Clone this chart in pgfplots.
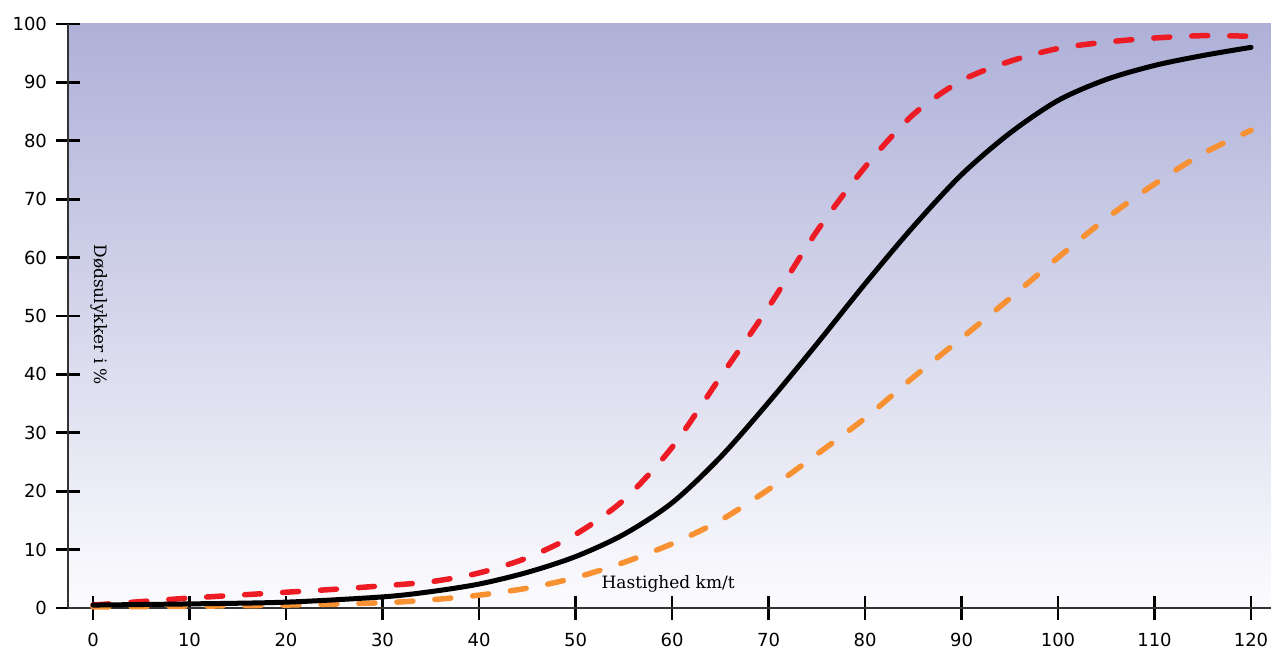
\documentclass[border=0pt]{standalone}
\usepackage{pgfplots}
\pgfplotsset{compat=1.18}
\usepackage{fontspec}
\setmainfont{DejaVu Sans}
\newfontfamily\slab{DejaVu Serif}
\definecolor{topc}{RGB}{174,176,216}
\definecolor{botc}{RGB}{252,252,254}
\definecolor{myred}{RGB}{237,28,36}
\definecolor{myorange}{RGB}{247,145,50}
\begin{document}
\begin{tikzpicture}
\useasboundingbox (-34pt,-20pt) rectangle (601.5pt,304pt);
\begin{axis}[
  at={(0,0)}, anchor=south west,
  scale only axis, width=601.5pt, height=292pt,
  xmin=-2.59, xmax=122.07, ymin=0, ymax=100,
  axis x line=bottom, axis y line=left,
  axis line style={-, line width=0.9pt, draw=black!80},
  xtick={0,10,...,120}, ytick={0,10,...,100},
  tick align=center, major tick length=12pt,
  tick style={line width=1.4pt, black},
  tick label style={font=\fontsize{9}{10}\selectfont},
  /pgf/number format/assume math mode=true,
  xticklabel style={yshift=-3pt},
  yticklabel style={xshift=-1pt},
  clip=false,
  axis background/.style={shade, top color=topc, bottom color=botc},
]
\addplot[myred, line width=2.75pt, line cap=round, dash pattern=on 8pt off 11pt, smooth] coordinates {
(0,0.5)(5,1.1)(10,1.7)(15,2.2)(20,2.7)(25,3.2)(30,3.8)(35,4.5)(40,6)(45,8.6)(50,12.6)(55,18.5)(60,27.5)(65,39.5)(70,51.5)(75,64.5)(80,75.5)(85,84.5)(90,90.3)(95,93.6)(100,95.8)(105,96.9)(110,97.6)(115,98)(120,97.9)};
\addplot[myorange, line width=2.75pt, line cap=round, dash pattern=on 8pt off 11pt, smooth] coordinates {
(0,0.2)(10,0.3)(20,0.5)(30,0.9)(35,1.4)(40,2.2)(45,3.4)(50,5.2)(55,7.8)(60,11)(65,15)(70,20.3)(75,26.3)(80,32.5)(85,39.5)(90,46.2)(95,53)(100,60)(105,66.7)(110,72.6)(115,77.8)(120,81.8)};
\addplot[black, line width=2.5pt, line cap=round, smooth] coordinates {
(0,0.5)(10,0.7)(20,1.0)(30,1.9)(35,2.8)(40,4.1)(45,6.1)(50,8.8)(55,12.6)(60,18)(65,25.8)(70,35.2)(75,45.2)(80,55.5)(85,65.3)(90,74.2)(95,81.3)(100,86.9)(105,90.5)(110,92.9)(115,94.6)(120,96)};
\draw[line width=0.9pt, black!80] (axis cs:-2.59,0) -- ++(-6pt,0);
\node[font=\slab\fontsize{8.5}{10}\selectfont] at (axis cs:59.6,4.1) {Hastighed km/t};
\node[font=\slab\fontsize{8.5}{10}\selectfont, rotate=-90] at (axis cs:0.6,50.2) {Dødsulykker i \%};
\end{axis}
\end{tikzpicture}
\end{document}
